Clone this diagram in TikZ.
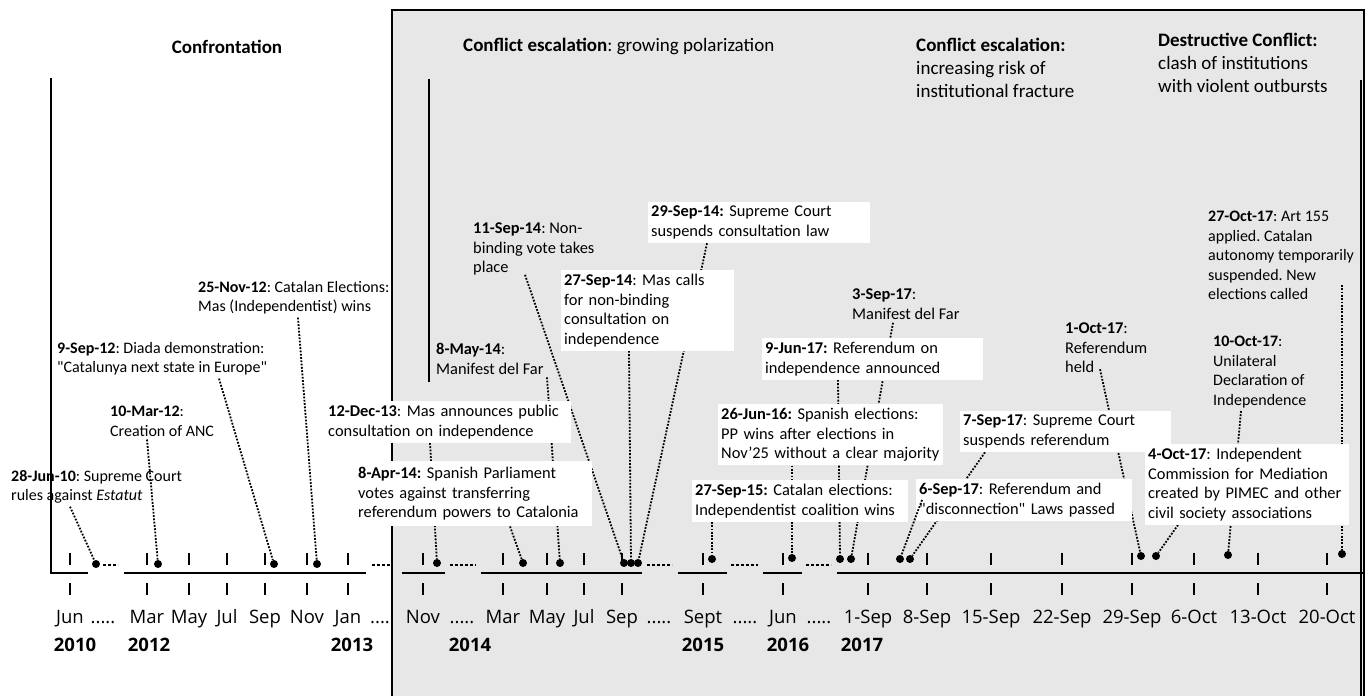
\documentclass[tikz,border=0pt]{standalone}
\usepackage{fontspec}
\setmainfont{Carlito}
\newfontfamily\axisfont{Open Sans}
\definecolor{panelgrey}{RGB}{231,231,231}
\pgfdeclarelayer{back}
\pgfdeclarelayer{links}
\pgfsetlayers{back,links,main}
\tikzset{
  phasehead/.style={font=\frenchspacing\fontsize{19}{23}\selectfont, align=left, inner sep=0pt},
  evtext/.style={font=\frenchspacing\fontsize{16}{19.5}\selectfont, align=left, inner sep=3pt, anchor=north west},
  evwide/.style={evtext, font=\frenchspacing\fontsize{16.4}{19.5}\selectfont},
  evbox/.style={evwide, fill=white, inner ysep=4pt},
  evdot/.style={circle, fill=black, inner sep=0pt, minimum size=8pt},
  link/.style={line width=1.8pt, dash pattern=on 1.8pt off 1.5pt},
  axisline/.style={line width=2pt},
  tickmark/.style={line width=1.4pt},
  gapdots/.style={line width=2.5pt, dash pattern=on 2.5pt off 2.5pt},
  monthlabel/.style={font=\axisfont\fontsize{18.5}{20}\selectfont, anchor=base, inner sep=0pt},
  yearlabel/.style={monthlabel, font=\axisfont\bfseries\fontsize{18.5}{20}\selectfont}
}
\begin{document}
\begin{tikzpicture}[x=1pt, y=-1pt]
  \useasboundingbox (0,0) rectangle (1371,696);
  \begin{pgfonlayer}{back}
    \draw[fill=panelgrey, line width=1.3pt] (392,10) rectangle (1364,720);
  \end{pgfonlayer}

  \node[phasehead, anchor=base] (confr) at (227,53) {\textbf{Confrontation}};
  \node[phasehead, anchor=base west] (escal) at (463,51) {\textbf{Conflict escalation}: growing polarization};
  \node[phasehead, anchor=north west] (fract) at (916,38) {\textbf{Conflict escalation:}\\increasing risk of\\institutional fracture};
  \node[phasehead, anchor=north west] (destr) at (1158,33) {\textbf{Destructive Conflict:}\\clash of institutions\\with violent outbursts};

  \draw[axisline] (51,78) -- (51,573) -- (88,573);
  \draw[axisline] (124,573) -- (366,573);
  \draw[axisline] (402,573) -- (445,573);
  \draw[axisline] (481,573) -- (642,573);
  \draw[axisline] (678,573) -- (727,573);
  \draw[axisline] (763,573) -- (802,573);
  \draw[axisline] (837,573) -- (1364,573);
  \draw[axisline] (429,79) -- (429,382);
  \draw[axisline] (1361,80) -- (1361,720);
  \foreach \a/\b in {103/118, 372/390, 450/476, 647/672, 731/758, 806/831}
    \draw[gapdots] (\a,565) -- (\b,565);

  \foreach \x/\m [count=\i] in {70/Jun, 147/Mar, 189/May, 227/Jul, 265/Sep, 307/Nov, 348/Jan,
      423/Nov, 503/Mar, 547/May, 584/Jul, 622/Sep, 703/Sept, 783/Jun, 868/1-Sep, 927/8-Sep,
      991/15-Sep, 1062/22-Sep, 1132/29-Sep, 1194/6-Oct, 1258/13-Oct, 1327/20-Oct}{
    \draw[tickmark] (\x,553) -- (\x,565) (\x,583) -- (\x,595);
    \node[monthlabel] (m\i) at (\x,623) {\m};
  }
  \foreach \x [count=\i] in {103, 462, 659, 745, 819}
    \node[monthlabel] (g\i) at (\x,623) {.....};
  \node[monthlabel] (g0) at (380,623) {....};
  \foreach \x/\y in {75/2010, 149/2012, 352/2013, 470/2014, 703/2015, 788/2016, 862/2017}
    \node[yearlabel] (y\y) at (\x,651) {\y};

  \node[evtext] (n28jun10) at (8,467) {\textbf{28-Jun-10}: Supreme Court\\rules against \textit{Estatut}};
  \node[evtext] (n10mar12) at (107,403) {\textbf{10-Mar-12}:\\Creation of ANC};
  \node[evtext] (n09sep12) at (54,339) {\textbf{9-Sep-12}: Diada demonstration:\\\textquotedbl Catalunya next state in Europe\textquotedbl};
  \node[evtext] (n25nov12) at (195,278) {\textbf{25-Nov-12}: Catalan Elections:\\Mas (Independentist) wins};
  \node[evbox, text width=240pt] (n12dec13) at (325,401) {\textbf{12-Dec-13}: Mas announces public\\consultation on independence};
  \node[evbox, text width=231pt, inner ysep=6pt] (n08apr14) at (355,461) {\textbf{8-Apr-14:} Spanish Parliament\\votes against transferring\\referendum powers to Catalonia};
  \node[evwide] (n08may14) at (433,340) {\textbf{8-May-14}:\\Manifest del Far};
  \node[evwide] (n11sep14) at (470,220) {\textbf{11-Sep-14}: Non-\\binding vote takes\\place};
  \node[evbox, text width=167pt] (n27sep14) at (561,270) {\textbf{27-Sep-14}: Mas calls\\for non-binding\\consultation on\\independence};
  \node[evbox, text width=216pt] (n29sep14) at (648,202) {\textbf{29-Sep-14:} Supreme Court\\suspends consultation law};
  \node[evbox, text width=210pt] (n27sep15) at (692,480) {\textbf{27-Sep-15:} Catalan elections:\\Independentist coalition wins};
  \node[evbox, text width=219pt] (n26jun16) at (718,404) {\textbf{26-Jun-16:} Spanish elections:\\PP wins after elections in\\Nov'25 without a clear majority};
  \node[evbox, text width=215pt] (n09jun17) at (762,338) {\textbf{9-Jun-17:} Referendum on\\independence announced};
  \node[evwide] (n03sep17) at (849,286) {\textbf{3-Sep-17}:\\Manifest del Far};
  \node[evbox, text width=205pt] (n07sep17) at (960,411) {\textbf{7-Sep-17}: Supreme Court\\suspends referendum};
  \node[evbox, text width=210pt] (n06sep17) at (916,479) {\textbf{6-Sep-17}: Referendum and\\\textquotedbl disconnection\textquotedbl{} Laws passed};
  \node[evwide] (n01oct17) at (1062,320) {\textbf{1-Oct-17}:\\Referendum\\held};
  \node[evbox, text width=198pt] (n04oct17) at (1145,444) {\textbf{4-Oct-17}: Independent\\Commission for Mediation\\created by PIMEC and other\\civil society associations};
  \node[evtext] (n10oct17) at (1210,333) {\textbf{10-Oct-17}:\\Unilateral\\Declaration of\\Independence};
  \node[evtext] (n27oct17) at (1205,208) {\textbf{27-Oct-17}: Art 155\\applied. Catalan\\autonomy temporarily\\suspended. New\\elections called};
  \coordinate (c27oct17) at (1342,285);

  \node[evdot] (p28jun10) at (96,564) {};
  \node[evdot] (p10mar12) at (158,564) {};
  \node[evdot] (p09sep12) at (274,564) {};
  \node[evdot] (p25nov12) at (317,564) {};
  \node[evdot] (p12dec13) at (437,563) {};
  \node[evdot] (p08apr14) at (523,563) {};
  \node[evdot] (p08may14) at (560,563) {};
  \node[evdot] (p11sep14) at (624,563) {};
  \node[evdot] (p27sep14) at (631,563) {};
  \node[evdot] (p29sep14) at (638,563) {};
  \node[evdot] (p27sep15) at (712,559) {};
  \node[evdot] (p26jun16) at (792,558) {};
  \node[evdot] (p09jun17) at (840,559) {};
  \node[evdot] (p03sep17) at (851,559) {};
  \node[evdot] (p06sep17) at (900,559) {};
  \node[evdot] (p07sep17) at (910,559) {};
  \node[evdot] (p01oct17) at (1141,556) {};
  \node[evdot] (p04oct17) at (1156,556) {};
  \node[evdot] (p10oct17) at (1228,555) {};
  \node[evdot] (p27oct17) at (1342,554) {};

  \begin{pgfonlayer}{links}
    \draw[link] ([xshift=62pt]n28jun10.south west) -- (p28jun10);
    \draw[link] ([xshift=40pt]n10mar12.south west) -- (p10mar12);
    \draw[link] ([xshift=165pt]n09sep12.south west) -- (p09sep12);
    \draw[link] ([xshift=103pt]n25nov12.south west) -- (p25nov12);
    \draw[link] ([xshift=105pt]n12dec13.south west) -- (p12dec13);
    \draw[link] ([xshift=155pt]n08apr14.south west) -- (p08apr14);
    \draw[link] ([xshift=114pt]n08may14.south west) -- (p08may14);
    \draw[link] ([xshift=55pt,yshift=4pt]n11sep14.south west) -- (p11sep14);
    \draw[link] ([xshift=68pt]n27sep14.south west) -- (p27sep14);
    \draw[link] ([xshift=59pt]n29sep14.south west) -- (p29sep14);
    \draw[link] ([xshift=20pt]n27sep15.south west) -- (p27sep15);
    \draw[link] ([xshift=74pt]n26jun16.south west) -- (p26jun16);
    \draw[link] ([xshift=76pt]n09jun17.south west) -- (p09jun17);
    \draw[link] ([xshift=44pt]n03sep17.south west) -- (p03sep17);
    \draw[link] ([xshift=25pt]n07sep17.south west) -- (p07sep17);
    \draw[link] ([xshift=38pt,yshift=7pt]n01oct17.south west) -- (p01oct17);
    \draw[link] ([xshift=33pt]n04oct17.south west) -- (p04oct17);
    \draw[link] ([xshift=31pt]n10oct17.south west) -- (p10oct17);
    \draw[link] (c27oct17) -- (p27oct17);
  \end{pgfonlayer}
  \draw[link] ([xshift=6pt]n06sep17.west) -- (p06sep17);
\end{tikzpicture}
\end{document}
